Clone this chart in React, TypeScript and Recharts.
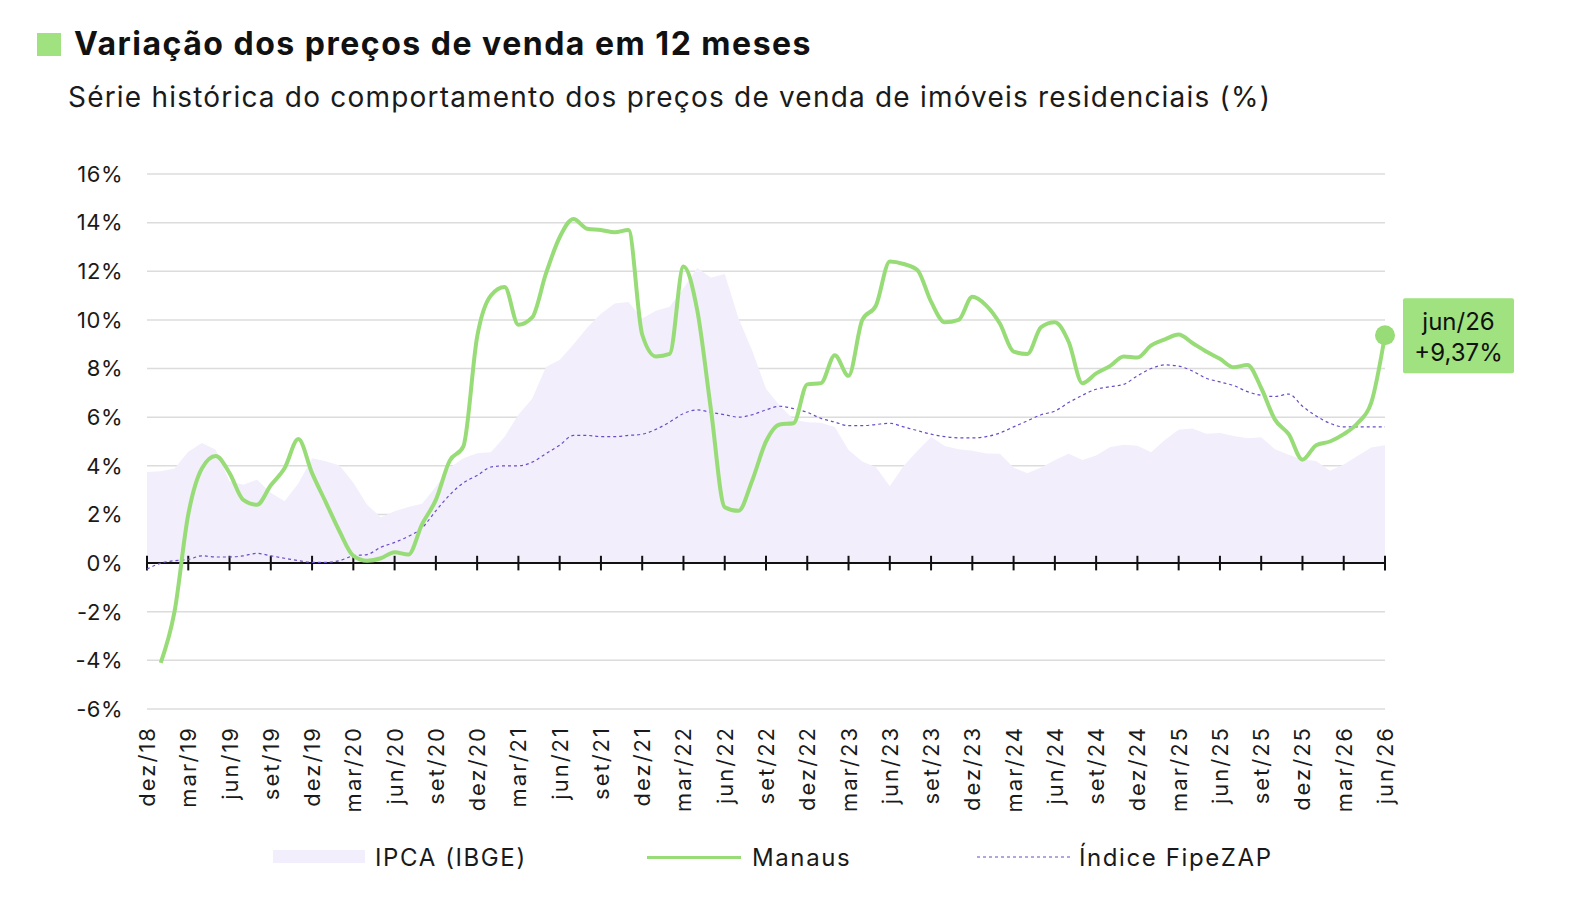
import React from "react";
import {
  Area,
  CartesianGrid,
  ComposedChart,
  Line,
  ReferenceLine,
  XAxis,
  YAxis,
} from "recharts";

const MONTH_NAMES = ["jan", "fev", "mar", "abr", "mai", "jun", "jul", "ago", "set", "out", "nov", "dez"];

// monthly categories, dez/18 .. jun/26
const months: string[] = [];
for (let i = 0; i < 91; i++) {
  const idx = 11 + i;
  months.push(`${MONTH_NAMES[idx % 12]}/${18 + Math.floor(idx / 12)}`);
}

const tickMonths = [
  "dez/18", "mar/19", "jun/19", "set/19", "dez/19", "mar/20", "jun/20", "set/20",
  "dez/20", "mar/21", "jun/21", "set/21", "dez/21", "mar/22", "jun/22", "set/22",
  "dez/22", "mar/23", "jun/23", "set/23", "dez/23", "mar/24", "jun/24", "set/24",
  "dez/24", "mar/25", "jun/25", "set/25", "dez/25", "mar/26", "jun/26",
];

const yTicks = [-6, -4, -2, 0, 2, 4, 6, 8, 10, 12, 14, 16];

// IPCA (IBGE), acumulado em 12 meses
const ipca = [
  3.75, 3.78, 3.89, 4.58, 4.94, 4.66, 3.37, 3.22, 3.43, 2.89, 2.54, 3.27,
  4.31, 4.19, 4.01, 3.3, 2.4, 1.88, 2.13, 2.31, 2.44, 3.14, 3.92, 4.31,
  4.52, 4.56, 5.2, 6.1, 6.76, 8.06, 8.35, 8.99, 9.68, 10.25, 10.67, 10.74,
  10.06, 10.38, 10.54, 11.3, 12.13, 11.73, 11.89, 10.07, 8.73, 7.17, 6.47, 5.9,
  5.79, 5.77, 5.6, 4.65, 4.18, 3.94, 3.16, 3.99, 4.61, 5.19, 4.82, 4.68,
  4.62, 4.51, 4.5, 3.93, 3.69, 3.93, 4.23, 4.5, 4.24, 4.42, 4.76, 4.87,
  4.83, 4.56, 5.06, 5.48, 5.53, 5.32, 5.35, 5.23, 5.13, 5.17, 4.68, 4.46,
  4.26, 4.2, 3.8, 4.05, 4.4, 4.75, 4.85,
];

// Manaus, variação em 12 meses (série começa em jan/19)
const manaus: (number | null)[] = [
  null, -4.1, -2.0, 2.0, 3.9, 4.4, 3.7, 2.6, 2.4, 3.2, 3.9, 5.1,
  3.7, 2.5, 1.3, 0.3, 0.1, 0.2, 0.45, 0.35, 1.6, 2.6, 4.2, 4.8,
  9.3, 11.0, 11.35, 9.8, 10.1, 11.9, 13.4, 14.15, 13.75, 13.7, 13.6, 13.7,
  9.4, 8.5, 8.6, 12.2, 10.4, 6.3, 2.3, 2.15, 3.4, 5.0, 5.7, 5.75,
  7.35, 7.4, 8.55, 7.7, 10.0, 10.6, 12.4, 12.3, 12.05, 10.75, 9.9, 10.0,
  10.95, 10.6, 9.85, 8.7, 8.6, 9.7, 9.9, 9.1, 7.4, 7.8, 8.1, 8.5,
  8.45, 8.95, 9.2, 9.4, 9.05, 8.7, 8.4, 8.05, 8.15, 7.2, 5.9, 5.3,
  4.25, 4.85, 5.0, 5.3, 5.75, 6.6, 9.37,
];

// Índice FipeZAP (média nacional)
const fipezap = [
  -0.25, 0.0, 0.1, 0.15, 0.3, 0.25, 0.25, 0.3, 0.4, 0.3, 0.2, 0.1,
  0.03, 0.03, 0.1, 0.3, 0.35, 0.65, 0.85, 1.1, 1.45, 2.15, 2.8, 3.3,
  3.6, 3.95, 4.0, 4.0, 4.15, 4.5, 4.85, 5.25, 5.25, 5.2, 5.2, 5.25,
  5.3, 5.5, 5.8, 6.15, 6.3, 6.2, 6.1, 6.0, 6.1, 6.3, 6.45, 6.35,
  6.2, 5.95, 5.8, 5.65, 5.65, 5.7, 5.75, 5.6, 5.45, 5.3, 5.2, 5.15,
  5.15, 5.2, 5.35, 5.6, 5.85, 6.1, 6.25, 6.6, 6.9, 7.15, 7.25, 7.35,
  7.7, 8.0, 8.15, 8.1, 7.9, 7.6, 7.45, 7.3, 7.05, 6.9, 6.85, 6.95,
  6.45, 6.05, 5.75, 5.6, 5.6, 5.6, 5.6,
];

const data = months.map((month, i) => ({
  month,
  ipca: ipca[i],
  manaus: manaus[i],
  fipezap: fipezap[i],
}));

const GREEN = "#98dc77";
const BADGE = "#9fe27f";
const LAVENDER = "#f2eefc";
const PURPLE = "#6a4cc6";
const FONT = "Inter, 'Noto Sans', sans-serif";

function MonthTick(props: any) {
  const { x, y, payload } = props;
  return (
    <text
      x={x}
      y={y}
      transform={`rotate(-90, ${x}, ${y})`}
      textAnchor="end"
      dominantBaseline="central"
      fontSize={22}
      letterSpacing={2}
      fontFamily={FONT}
      fill="#1a1a1a"
    >
      {payload.value}
    </text>
  );
}

function LastPointBadge(props: any) {
  const { cx, cy, index, payload } = props;
  if (index !== data.length - 1 || cx == null || cy == null) {
    return <g key={`dot-${index}`} />;
  }
  const text = `+${payload.manaus.toFixed(2).replace(".", ",")}%`;
  const bx = cx + 18;
  return (
    <g key="last-point">
      <circle cx={cx} cy={cy} r={10} fill={GREEN} />
      <rect x={bx} y={cy - 37} width={111} height={75} fill={BADGE} rx={2} />
      <text x={bx + 55.5} y={cy - 14} textAnchor="middle" dominantBaseline="central"
        fontSize={24} fontFamily={FONT} fill="#111">
        {payload.month}
      </text>
      <text x={bx + 55.5} y={cy + 17} textAnchor="middle" dominantBaseline="central"
        fontSize={24} fontFamily={FONT} fill="#111">
        {text}
      </text>
    </g>
  );
}

const legendText: React.CSSProperties = {
  position: "absolute",
  top: 844,
  fontSize: 24,
  lineHeight: "28px",
  letterSpacing: 1.6,
  color: "#1a1a1a",
  whiteSpace: "nowrap",
};

export default function App() {
  return (
    <div
      style={{
        position: "absolute",
        left: 0,
        top: 0,
        width: 1586,
        height: 900,
        background: "#fff",
        fontFamily: FONT,
        overflow: "hidden",
      }}
    >
      <div style={{ position: "absolute", left: 37, top: 33, width: 24, height: 23, background: BADGE }} />
      <div
        style={{
          position: "absolute",
          left: 74,
          top: 24,
          fontSize: 32,
          lineHeight: "40px",
          letterSpacing: 1.5,
          fontWeight: 700,
          color: "#111",
          whiteSpace: "nowrap",
        }}
      >
        Variação dos preços de venda em 12 meses
      </div>
      <div
        style={{
          position: "absolute",
          left: 68,
          top: 80,
          fontSize: 28,
          lineHeight: "34px",
          letterSpacing: 1.2,
          color: "#1a1a1a",
          whiteSpace: "nowrap",
        }}
      >
        Série histórica do comportamento dos preços de venda de imóveis residenciais (%)
      </div>

      <div style={{ position: "absolute", left: 0, top: 0 }}>
        <ComposedChart
          width={1586}
          height={900}
          data={data}
          margin={{ top: 174, right: 201, bottom: 0, left: 0 }}
        >
          <CartesianGrid vertical={false} stroke="#dcdcdc" strokeWidth={1.5} />
          <XAxis
            dataKey="month"
            height={191}
            axisLine={false}
            tickLine={false}
            tickSize={0}
            tickMargin={17}
            ticks={tickMonths}
            interval={0}
            tick={<MonthTick />}
          />
          <YAxis
            type="number"
            domain={[-6, 16]}
            ticks={yTicks}
            width={147}
            axisLine={false}
            tickLine={false}
            tickSize={0}
            tickMargin={24}
            tickFormatter={(v: number) => `${v}%`}
            tick={{ fontSize: 22, fill: "#1a1a1a", fontFamily: FONT, letterSpacing: 0.5 }}
          />
          <Area
            type="linear"
            dataKey="ipca"
            fill={LAVENDER}
            fillOpacity={1}
            stroke="none"
            isAnimationActive={false}
            activeDot={false}
          />
          <ReferenceLine y={0} stroke="#111" strokeWidth={2} />
          {tickMonths.map((m) => (
            <ReferenceLine
              key={m}
              segment={[
                { x: m, y: -0.3 },
                { x: m, y: 0.3 },
              ]}
              stroke="#111"
              strokeWidth={2}
            />
          ))}
          <Line
            type="monotone"
            dataKey="fipezap"
            stroke={PURPLE}
            strokeWidth={1.2}
            strokeDasharray="3 3"
            dot={false}
            activeDot={false}
            isAnimationActive={false}
          />
          <Line
            type="monotone"
            dataKey="manaus"
            stroke={GREEN}
            strokeWidth={4}
            dot={LastPointBadge}
            activeDot={false}
            isAnimationActive={false}
          />
        </ComposedChart>
      </div>

      {/* legend */}
      <div style={{ position: "absolute", left: 273, top: 850, width: 92, height: 13, background: LAVENDER }} />
      <div style={{ ...legendText, left: 375 }}>IPCA (IBGE)</div>
      <div style={{ position: "absolute", left: 647, top: 856, width: 94, height: 3, background: GREEN }} />
      <div style={{ ...legendText, left: 752 }}>Manaus</div>
      <svg style={{ position: "absolute", left: 977, top: 852 }} width={94} height={10}>
        <line x1={0} y1={5} x2={94} y2={5} stroke={PURPLE} strokeWidth={1.2} strokeDasharray="3 3" />
      </svg>
      <div style={{ ...legendText, left: 1079 }}>Índice FipeZAP</div>
    </div>
  );
}
